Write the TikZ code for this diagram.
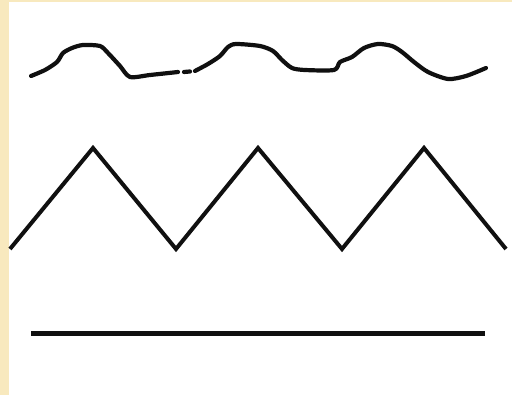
\documentclass[tikz,border=0pt]{standalone}
\usepackage{xcolor}
\definecolor{paper}{HTML}{F8E9BE}
\definecolor{ink}{HTML}{101010}

\begin{document}
\begin{tikzpicture}[x=1pt, y=-1pt,
    wave/.style={draw=ink, line width=4.2pt, line cap=round, line join=round},
    zigzag/.style={draw=ink, line width=4pt, line join=miter},
    flat/.style={draw=ink, line width=4.4pt}
  ]
    \useasboundingbox (0,0) rectangle (512,395);
    \fill[paper] (0,0) rectangle (512,395);
    \fill[white] (9,2) rectangle (512,395);
    % wavy line, with its small break
    \draw[wave] plot[smooth, tension=0.45] coordinates {
      (31,76) (45,70) (57,62) (63,53) (72,48) (83,45) (100,46) (108,53)
      (120,66) (130,77) (150,75) (178,72)};
    \draw[wave] (184,72) -- (190,71.5);
    \draw[wave] plot[smooth, tension=0.45] coordinates {
      (195,71) (208,64) (220,56) (228,47) (236,44) (260,46) (273,51)
      (282,60) (292,68) (305,70) (334,70) (340,62) (352,57) (364,48)
      (378,44) (392,46) (402,52) (414,62) (428,72) (448,79) (466,76) (486,68)};
    % zigzag line
    \draw[zigzag] (10,249) -- (93,148) -- (176,249) -- (258,148)
      -- (342,249) -- (424,148) -- (506,249);
    % straight line
    \draw[flat] (31,333.5) -- (485,333.5);
  \end{tikzpicture}
\end{document}
